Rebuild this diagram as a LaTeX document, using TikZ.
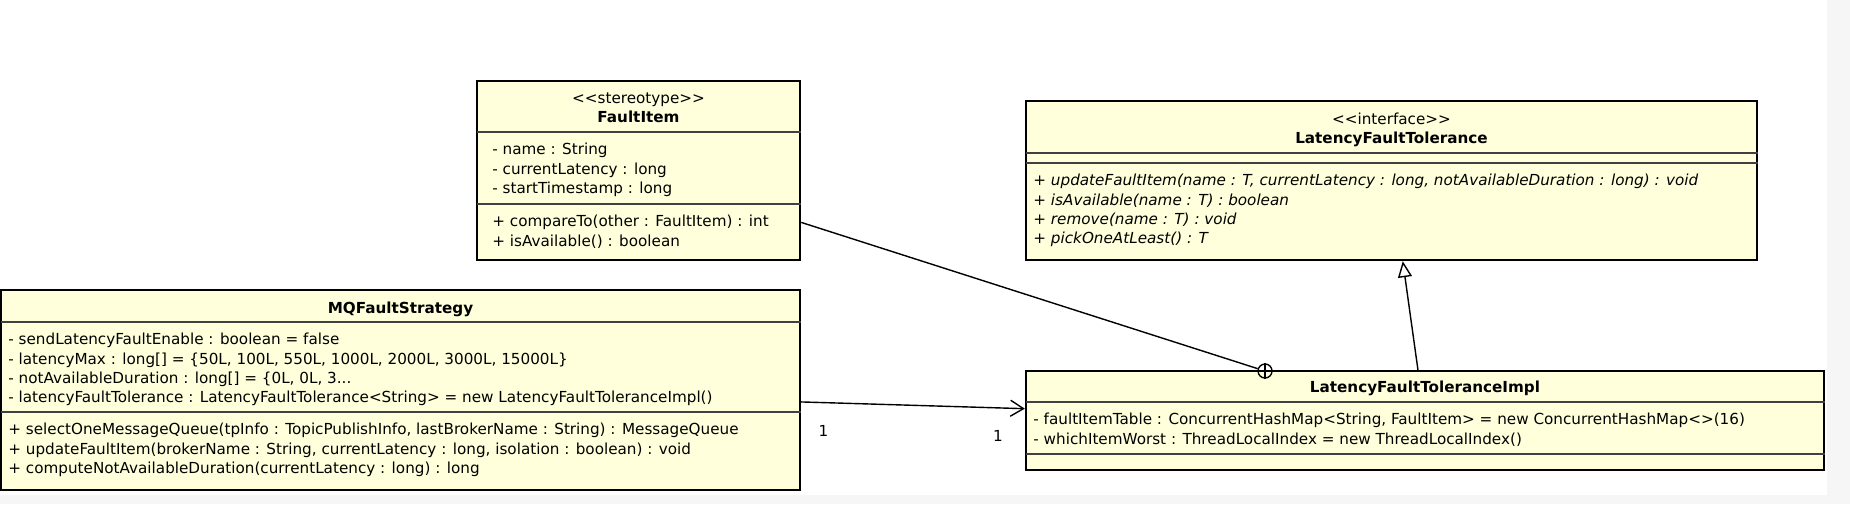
\documentclass[tikz,border=0pt]{standalone}
\usepackage{fontspec}
\usepackage{tikz}
\usetikzlibrary{positioning,arrows.meta}
\newfontfamily\umlfont{DejaVu Sans}
\newcommand\umltext{\umlfont\fontsize{7.6pt}{9.65pt}\selectfont}
\definecolor{umlfill}{HTML}{FFFFDC}
\definecolor{pagegrey}{HTML}{F6F6F6}

\begin{document}
\begin{tikzpicture}[x=0.5pt, y=-0.5pt, font=\umltext,
  classbox/.style={draw, line width=1.2pt, fill=umlfill, inner sep=0pt},
  sepline/.style={draw=black!75, line width=0.6pt},
  head/.style={align=center, inner sep=0pt},
  members/.style={align=left, inner sep=0pt},
  mult/.style={inner sep=0pt},
  nestmark/.style={circle, draw, line width=0.7pt, minimum size=7pt, inner sep=0pt},
  assoc/.style={line width=0.7pt},
  navig/.style={assoc, -{Straight Barb[length=6.5pt, width=8pt]}},
  general/.style={assoc, -{Triangle[open, length=8pt, width=7pt]}}]

  \useasboundingbox (0,0) rectangle (1850,504);
  \fill[pagegrey] (0,0) rectangle (1850,504);
  \fill[white] (0,0) rectangle (1827,495);

  % classes
  \node[classbox, minimum width=161.5pt, minimum height=89.5pt] (fi) at (638.5,170.5) {};
  \node[classbox, minimum width=399.5pt, minimum height=100pt] (mq) at (400.5,390) {};
  \node[classbox, minimum width=365.5pt, minimum height=79.5pt] (lft) at (1391.5,180.5) {};
  \node[classbox, minimum width=399pt, minimum height=49.5pt] (lfti) at (1425,420.5) {};

  % compartments
  \coordinate (fi1) at (477,132);
  \coordinate (fi2) at (477,204);
  \coordinate (mq1) at (1,322);
  \coordinate (mq2) at (1,412);
  \coordinate (lft1) at (1026,153);
  \coordinate (lft2) at (1026,163);
  \coordinate (lfti1) at (1026,402);
  \coordinate (lfti2) at (1026,454);
  \draw[sepline] (fi1) -- (fi1 -| fi.east) (fi2) -- (fi2 -| fi.east);
  \draw[sepline] (mq1) -- (mq1 -| mq.east) (mq2) -- (mq2 -| mq.east);
  \draw[sepline] (lft1) -- (lft1 -| lft.east) (lft2) -- (lft2 -| lft.east);
  \draw[sepline] (lfti1) -- (lfti1 -| lfti.east) (lfti2) -- (lfti2 -| lfti.east);

  % FaultItem
  \node[head, below=6.3pt of fi.north] (fihead) {<\kern0pt<stereotype>\kern0pt>\\\textbf{FaultItem}};
  \node[members, below right=5.5pt and 7.5pt of fi1] (fiattr) {- name : String\\- currentLatency : long\\- startTimestamp : long};
  \node[members, below right=5.5pt and 7.5pt of fi2] (fiop) {+ compareTo(other : FaultItem) : int\\+ isAvailable() : boolean};

  % MQFaultStrategy
  \node[head, below=6.2pt of mq.north] (mqhead) {\textbf{MQFaultStrategy}};
  \node[members, below right=5.5pt and 3.5pt of mq1] (mqattr) {- sendLatencyFaultEnable : boolean = false\\- latencyMax : long[] = \{50L, 100L, 550L, 1000L, 2000L, 3000L, 15000L\}\\- notAvailableDuration : long[] = \{0L, 0L, 3...\\- latencyFaultTolerance : LatencyFaultTolerance<String> = new LatencyFaultToleranceImpl()};
  \node[members, below right=5.5pt and 3.5pt of mq2] (mqop) {+ selectOneMessageQueue(tpInfo : TopicPublishInfo, lastBrokerName : String) : MessageQueue\\+ updateFaultItem(brokerName : String, currentLatency : long, isolation : boolean) : void\\+ computeNotAvailableDuration(currentLatency : long) : long};

  % LatencyFaultTolerance
  \node[head, below=6.3pt of lft.north] (lfthead) {<\kern0pt<interface>\kern0pt>\\\textbf{LatencyFaultTolerance}};
  \node[members, font=\umltext\itshape, below right=5.5pt and 3.5pt of lft2] (lftop) {+ updateFaultItem(name : T, currentLatency : long, notAvailableDuration : long) : void\\+ isAvailable(name : T) : boolean\\+ remove(name : T) : void\\+ pickOneAtLeast() : T};

  % LatencyFaultToleranceImpl
  \node[head, below=5.6pt of lfti.north] (lftihead) {\textbf{LatencyFaultToleranceImpl}};
  \node[members, below right=5.5pt and 3.5pt of lfti1] (lftiattr) {- faultItemTable : ConcurrentHashMap<String, FaultItem> = new ConcurrentHashMap<>(16)\\- whichItemWorst : ThreadLocalIndex = new ThreadLocalIndex()};

  % relations
  \node[nestmark] (nest) at (1265,371) {};
  \draw[assoc] (nest.north) -- (nest.south) (nest.west) -- (nest.east);
  \draw[assoc] (fi) -- (nest);
  \draw[navig] (mq) -- (lfti) node[mult, pos=0.1, below=11pt] (mqmult) {1} node[mult, pos=0.88, below=11pt] (lftimult) {1};
  \draw[general] (lfti) -- (lft);
\end{tikzpicture}
\end{document}
